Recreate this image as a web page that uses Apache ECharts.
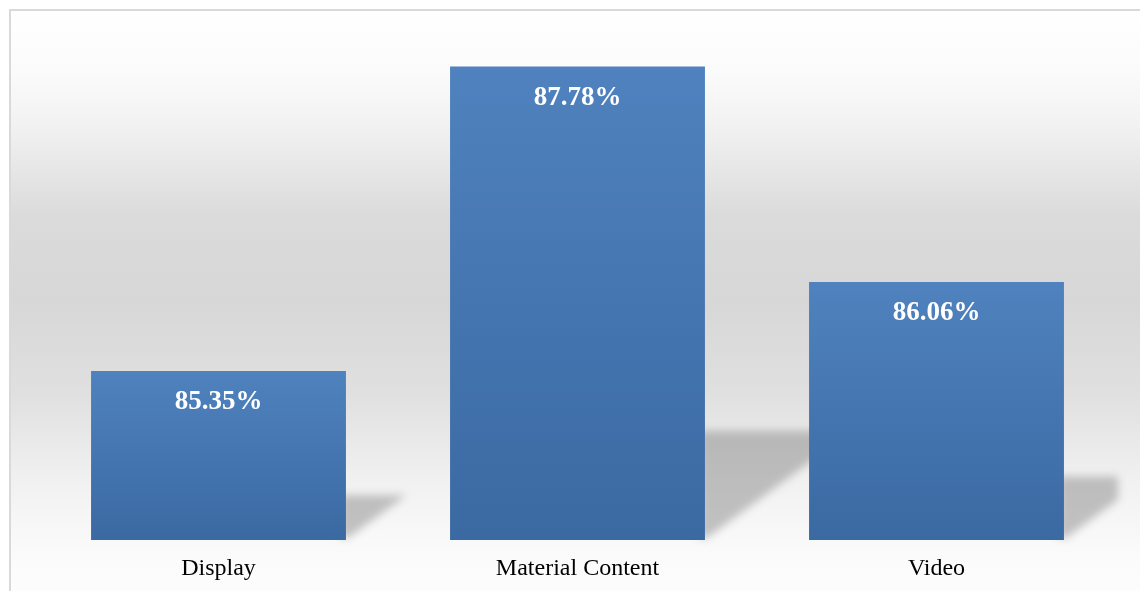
<!DOCTYPE html>
<html>
<head>
<meta charset="utf-8">
<script src="https://cdn.jsdelivr.net/npm/echarts@6/dist/echarts.min.js"></script>
<style>
html,body{margin:0;padding:0;background:#fff;}
#chart{width:1140px;height:591px;}
</style>
</head>
<body>
<div id="chart"></div>
<script>
var categories = ['Display', 'Material Content', 'Video'];
var values = [85.35, 87.78, 86.06];
var axisMin = 84;
var axisMax = 88;

var chart = echarts.init(document.getElementById('chart'));

var OFF = 1600;
function shadowItem(params, api) {
  var idx = api.value(0);
  var val = api.value(1);
  var top = api.coord([idx, val]);
  var base = api.coord([idx, axisMin]);
  var bw = api.size([1, 0])[0] * 0.71;
  var xr = base[0] + bw / 2;
  var h = base[1] - top[1];
  var sh = 9 + h * 0.211;
  var yTop = base[1] - sh;
  var yBot = base[1] - 2;
  var xTR = xr + sh * 1.35;
  var xBR = xr + 2;
  var clipX = params.coordSys.x + params.coordSys.width + 2;
  var pts;
  if (xTR > clipX) {
    var t = (xTR - clipX) / (xTR - xBR);
    var yC = yTop + t * (yBot - yTop);
    pts = [[xr - 6, yTop], [clipX, yTop], [clipX, yC], [xBR, yBot], [xr - 6, yBot]];
  } else {
    pts = [[xr - 6, yTop], [xTR, yTop], [xBR, yBot], [xr - 6, yBot]];
  }
  pts = pts.map(function (p) { return [p[0] - OFF, p[1]]; });
  return {
    type: 'polygon',
    shape: { points: pts },
    style: {
      fill: '#888888',
      shadowBlur: 9,
      shadowOffsetX: OFF,
      shadowOffsetY: 0,
      shadowColor: 'rgba(110,110,110,0.4)'
    }
  };
}

var option = {
  animation: false,
  graphic: [{
    type: 'rect',
    z: -10,
    shape: { x: 10, y: 10, width: 1160, height: 620 },
    style: {
      stroke: '#d9d9d9',
      lineWidth: 2,
      fill: {
        type: 'linear', x: 0, y: 0, x2: 0, y2: 1,
        colorStops: [
          { offset: 0, color: '#ffffff' },
          { offset: 0.1, color: '#fbfbfb' },
          { offset: 0.2, color: '#f0f0f0' },
          { offset: 0.33, color: '#dbdbdb' },
          { offset: 0.47, color: '#d7d7d7' },
          { offset: 0.62, color: '#e0e0e0' },
          { offset: 0.76, color: '#f1f1f1' },
          { offset: 0.88, color: '#fbfbfb' },
          { offset: 1, color: '#fefefe' }
        ]
      }
    }
  }],
  grid: { left: 39, right: 24, top: 39, bottom: 51, containLabel: false },
  xAxis: {
    type: 'category',
    data: categories,
    axisLine: { show: false },
    axisTick: { show: false },
    axisLabel: {
      margin: 17,
      color: '#000',
      fontFamily: 'Liberation Serif',
      fontSize: 24
    }
  },
  yAxis: {
    type: 'value',
    min: axisMin,
    max: axisMax,
    interval: 1,
    show: false,
    splitLine: { show: false }
  },
  series: [
    {
      type: 'custom',
      z: 1,
      clip: false,
      data: values.map(function (v, i) { return [i, v]; }),
      renderItem: shadowItem,
      silent: true
    },
    {
      type: 'bar',
      z: 2,
      data: values,
      barWidth: '71%',
      itemStyle: {
        color: {
          type: 'linear', x: 0, y: 0, x2: 0, y2: 1,
          colorStops: [
            { offset: 0, color: '#4f82be' },
            { offset: 1, color: '#3b69a2' }
          ]
        }
      },
      label: {
        show: true,
        position: 'insideTop',
        distance: 18,
        color: '#ffffff',
        fontFamily: 'Liberation Serif',
        fontWeight: 'bold',
        fontSize: 27,
        formatter: function (p) { return p.value.toFixed(2) + '%'; }
      }
    }
  ]
};
chart.setOption(option);
</script>
</body>
</html>
